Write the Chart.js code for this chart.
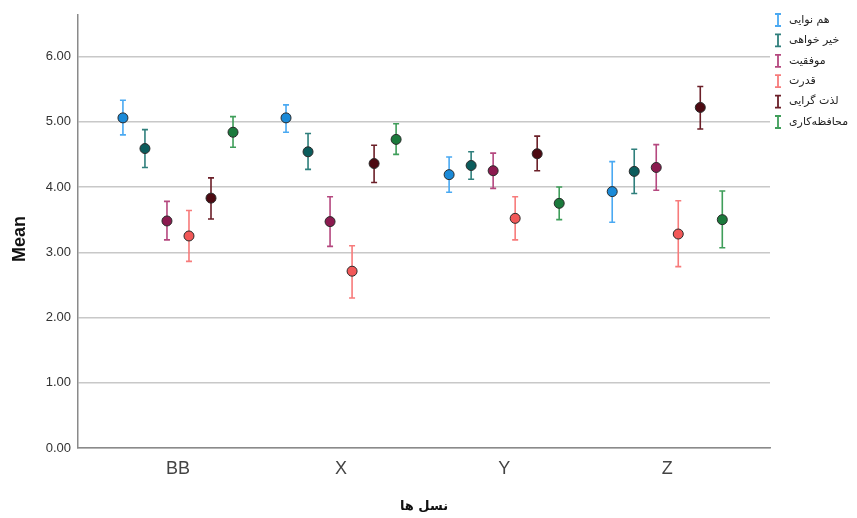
<!DOCTYPE html>
<html>
<head>
<meta charset="utf-8">
<script src="https://cdn.jsdelivr.net/npm/chart.js@4.4.1/dist/chart.umd.min.js"></script>
<style>
  body { margin: 0; background: #fff; }
  #wrap { width: 857px; height: 518px; position: relative; }
</style>
</head>
<body>
<div id="wrap"><canvas id="means_chart"></canvas></div>
<script>
// groups on the x axis and the six value series
const groups = ['BB', 'X', 'Y', 'Z'];
const seriesNames = ['هم نوایی', 'خیر خواهی', 'موفقیت', 'قدرت', 'لذت گرایی', 'محافظه‌کاری'];
const yTicks = [0, 1, 2, 3, 4, 5, 6];

// means per series (rows) and group (columns)
const meanValues = [
  [5.06, 5.06, 4.19, 3.93],
  [4.59, 4.54, 4.33, 4.24],
  [3.48, 3.47, 4.25, 4.30],
  [3.25, 2.71, 3.52, 3.28],
  [3.83, 4.36, 4.51, 5.22],
  [4.84, 4.73, 3.75, 3.50]
];
// lower and upper ends of the error bars
const lowerValues = [
  [4.80, 4.84, 3.92, 3.46],
  [4.30, 4.27, 4.12, 3.90],
  [3.19, 3.09, 3.98, 3.95],
  [2.86, 2.30, 3.19, 2.78],
  [3.51, 4.07, 4.25, 4.89],
  [4.61, 4.50, 3.50, 3.07]
];
const upperValues = [
  [5.33, 5.26, 4.46, 4.39],
  [4.88, 4.82, 4.54, 4.58],
  [3.78, 3.85, 4.52, 4.65],
  [3.64, 3.10, 3.85, 3.79],
  [4.14, 4.64, 4.78, 5.54],
  [5.08, 4.97, 4.00, 3.94]
];

const pointColors = ['#1a8ad8', '#0b5c5c', '#8b1a4f', '#f25858', '#4d0a12', '#1b7a3c'];
const barColors = ['#4aa9f2', '#2f7f7c', '#b5487f', '#f77b7b', '#6b1f28', '#3f9e5a'];

const SERIES_STEP = 0.135;

function seriesX(group, series) {
  return group + (series - (seriesNames.length - 1) / 2) * SERIES_STEP;
}

const datasets = seriesNames.map((name, s) => ({
  label: name,
  data: meanValues[s].map((v, g) => ({ x: seriesX(g, s), y: v })),
  backgroundColor: pointColors[s],
  borderColor: '#2a2a2a',
  borderWidth: 1,
  pointRadius: 5,
  lower: lowerValues[s],
  upper: upperValues[s]
}));

const errorBars = {
  id: 'errorBars',
  beforeDatasetsDraw(chart) {
    const ctx = chart.ctx;
    const xs = chart.scales.x, ys = chart.scales.y;
    ctx.save();
    ctx.lineWidth = 1.6;
    chart.data.datasets.forEach((ds, s) => {
      ctx.strokeStyle = barColors[s];
      ds.data.forEach((p, g) => {
        const x = xs.getPixelForValue(p.x);
        const y1 = ys.getPixelForValue(ds.lower[g]);
        const y2 = ys.getPixelForValue(ds.upper[g]);
        ctx.beginPath();
        ctx.moveTo(x, y1); ctx.lineTo(x, y2);
        ctx.moveTo(x - 3, y1); ctx.lineTo(x + 3, y1);
        ctx.moveTo(x - 3, y2); ctx.lineTo(x + 3, y2);
        ctx.stroke();
      });
    });
    ctx.restore();
  }
};

const sideLegend = {
  id: 'sideLegend',
  afterDraw(chart) {
    const ctx = chart.ctx;
    const left = chart.chartArea.right + 8;
    ctx.save();
    ctx.font = '11px "DejaVu Sans"';
    ctx.textBaseline = 'middle';
    ctx.textAlign = 'left';
    seriesNames.forEach((name, s) => {
      const y = 20 + s * 20.4;
      ctx.strokeStyle = barColors[s];
      ctx.lineWidth = 1.8;
      ctx.beginPath();
      ctx.moveTo(left, y - 6); ctx.lineTo(left, y + 6);
      ctx.moveTo(left - 3, y - 6); ctx.lineTo(left + 3, y - 6);
      ctx.moveTo(left - 3, y + 6); ctx.lineTo(left + 3, y + 6);
      ctx.stroke();
      ctx.fillStyle = '#222';
      ctx.fillText(name, left + 11, y);
    });
    ctx.restore();
  }
};

new Chart('means_chart', {
  type: 'scatter',
  data: { datasets: datasets },
  plugins: [errorBars, sideLegend],
  options: {
    responsive: true,
    maintainAspectRatio: false,
    animation: false,
    layout: { padding: { top: 12, right: 87, bottom: 0, left: 0 } },
    plugins: { legend: { display: false }, tooltip: { enabled: false } },
    scales: {
      x: {
        type: 'linear',
        min: -0.613,
        max: 3.63,
        afterFit(scale) { scale.height = 70; },
        afterBuildTicks(scale) { scale.ticks = groups.map((g, i) => ({ value: i })); },
        grid: { display: false },
        border: { display: true, color: '#8a8a8a', width: 1.5 },
        ticks: {
          padding: 2,
          color: '#444',
          font: { family: 'Liberation Sans', size: 18 },
          callback: (v) => groups[v]
        },
        title: {
          display: true,
          text: 'نسل ها',
          color: '#111',
          font: { family: 'DejaVu Sans', size: 13, weight: 'bold' },
          padding: { top: 0, bottom: 4 }
        }
      },
      y: {
        min: 0,
        max: 6.64,
        afterFit(scale) { scale.width = 78; },
        afterBuildTicks(scale) { scale.ticks = yTicks.map(v => ({ value: v })); },
        grid: { color: '#c8c8c8', lineWidth: 1.5, drawTicks: false },
        border: { display: true, color: '#8a8a8a', width: 1.5 },
        ticks: {
          padding: 7,
          color: '#333',
          font: { family: 'Liberation Sans', size: 13 },
          callback: (v) => Number(v).toFixed(2)
        },
        title: {
          display: true,
          text: 'Mean   ',
          color: '#111',
          font: { family: 'Liberation Sans', size: 18, weight: 'bold' },
          padding: { top: 9, bottom: 0 }
        }
      }
    }
  }
});
</script>
</body>
</html>
